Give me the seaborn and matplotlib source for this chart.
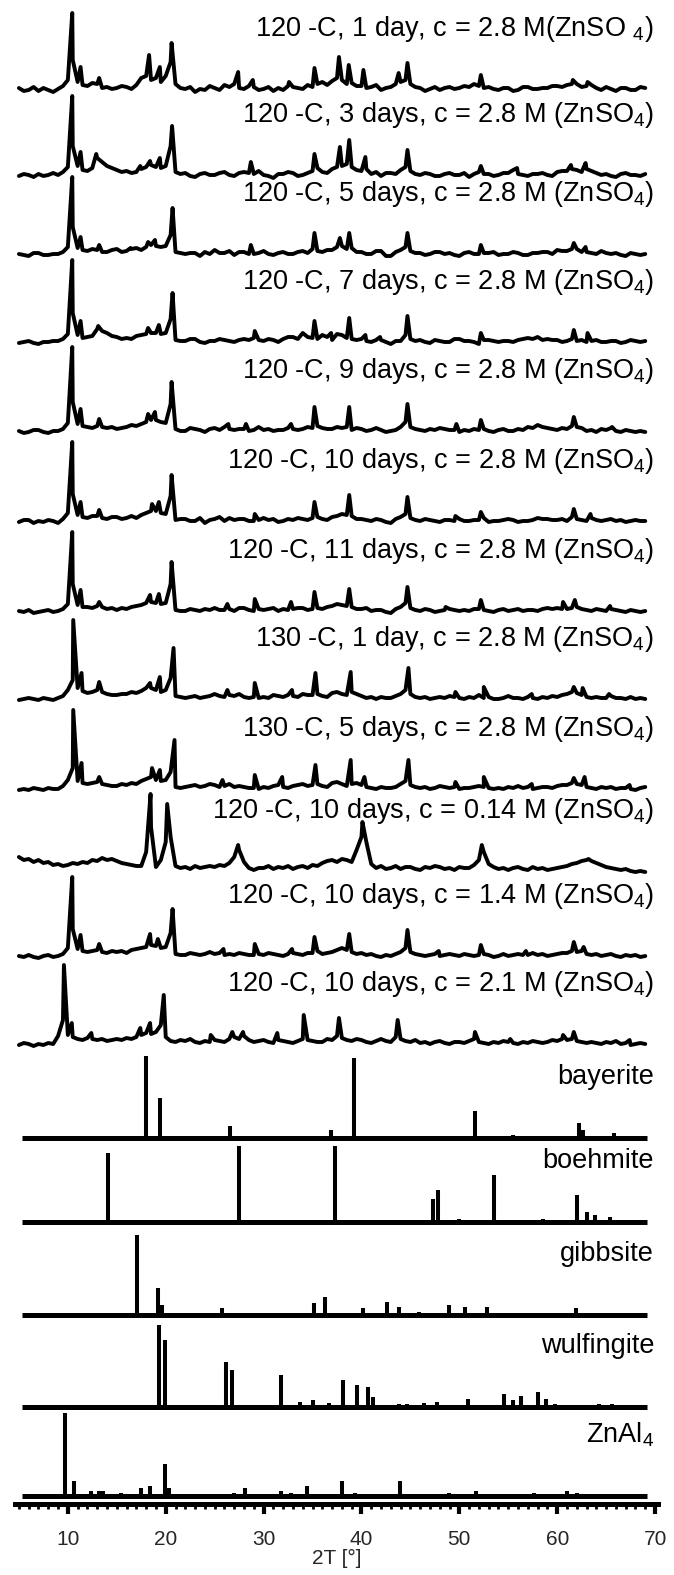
import numpy as np
import pandas as pd
import matplotlib
matplotlib.use("Agg")
import matplotlib.pyplot as plt
import seaborn as sns

# ---------------------------------------------------------------- data
# Measured powder patterns: background/noise sampled every half degree
# (2-theta = 5.0, 5.5, ... 69.0, one row of ten values per 5 degrees)
# plus the reflections read as (position, height).
grid_2theta = [5.0 + 0.5 * i for i in range(129)]

bg_120c_1d = [2, -1, 0, 3, -1, 2, 0, -2, 1, 4,
              10, 30, 8, 5, 4, 7, 6, 2, 3, 1,
              2, 4, 3, 1, 5, 12, 14, 10, 12, 8,
              14, 28, 6, 2, 1, 3, -2, 1, 0, 4,
              2, 0, 5, 3, 6, 2, 1, 4, 3, 0,
              1, 3, -1, 2, 0, 4, 3, 2, 1, 5,
              3, 6, 8, 5, 9, 12, 10, 6, 7, 4,
              4, 2, 3, 5, 0, 2, 3, 6, 8, 10,
              6, 3, 2, -1, 1, 3, 0, 2, 3, 1,
              2, 4, 3, 6, 4, 2, 3, 1, 0, 2,
              2, -1, 0, 3, 3, 1, 1, 2, 2, 4,
              4, 3, 5, 6, 6, 3, 4, 5, 2, 0,
              3, 1, -1, 2, 2, 0, 0, 3, 2]
pk_120c_1d = [(10.45, 77), (11.3, 23), (13.2, 12), (18.3, 35), (19.4, 23), (20.6, 47),
              (27.4, 18), (28.9, 10), (32.6, 8), (35.2, 22), (37.7, 33), (38.7, 25),
              (40.2, 20), (43.8, 17), (44.7, 27), (52.2, 15), (61.6, 10), (63.1, 8)]

bg_120c_3d = [0, 2, 1, -1, 2, 0, 1, 3, 1, 4,
              9, 30, 10, 6, 5, 8, 18, 14, 10, 8,
              6, 4, 5, 3, 4, 7, 9, 11, 9, 8,
              10, 30, 4, 2, 3, 0, -1, 2, 3, 1,
              1, 3, 4, 1, 0, 3, 4, 3, 2, 5,
              1, 0, -2, 2, 2, 4, 3, 0, 1, 3,
              5, 8, 4, 3, 7, 9, 10, 12, 9, 6,
              5, 7, 2, 4, 0, 3, 3, 2, 6, 9,
              5, 2, 1, 3, 2, 0, 0, 2, 3, 1,
              1, 3, -1, 2, 4, 2, 2, 0, 1, 3,
              3, 6, 2, 1, 0, 2, 2, 3, 1, 0,
              4, 5, 5, 7, 6, 4, 7, 5, 3, 1,
              2, 0, -1, 2, 3, 1, 1, 0, 2]
pk_120c_3d = [(10.45, 80), (11.3, 24), (12.9, 22), (17.4, 10), (18.4, 15), (19.4, 18),
              (20.65, 50), (28.7, 14), (35.2, 22), (37.8, 29), (38.75, 36), (40.4, 19),
              (44.7, 26), (52.2, 10), (55.9, 8), (61.4, 11), (62.9, 13)]

bg_120c_5d = [1, 0, -1, 2, 2, 0, 0, 1, 1, 3,
              8, 28, 7, 5, 4, 6, 5, 3, 3, 5,
              6, 3, 4, 6, 7, 5, 8, 10, 9, 8,
              9, 20, 3, 2, 1, 2, 2, -1, 3, 1,
              5, 2, 2, 4, 0, 3, 3, 1, 1, 2,
              4, 1, 0, 2, 3, 1, 1, 3, 4, 2,
              6, 4, 3, 5, 5, 8, 9, 6, 7, 3,
              3, 1, 1, 4, 4, -1, -1, 3, 5, 8,
              4, 2, 2, 0, 1, 3, 3, 1, 2, 0,
              -1, 2, 3, 1, 1, 2, 2, 3, 0, 1,
              1, 3, 2, 0, 0, 2, 2, 3, 3, 1,
              5, 4, 4, 6, 6, 3, 3, 2, 1, 4,
              2, 1, 2, 0, -1, 2, 1, 0, 1]
pk_120c_5d = [(10.45, 78), (11.3, 18), (13.2, 10), (16.4, 7), (18.2, 13), (18.9, 15),
              (20.7, 47), (28.7, 10), (35.2, 22), (37.8, 17), (38.75, 22), (44.7, 22),
              (52.2, 10), (61.7, 12), (62.9, 8)]

bg_120c_7d = [0, 1, 2, 0, -1, 1, 1, 2, 2, 4,
              9, 30, 8, 5, 6, 7, 14, 12, 10, 7,
              6, 4, 5, 4, 7, 8, 9, 10, 10, 9,
              10, 24, 3, 2, 2, 4, 4, 1, 0, 2,
              2, 4, 3, 2, 1, 3, 4, 3, 5, 3,
              2, 4, 3, 1, 4, 6, 6, 4, 10, 6,
              5, 4, 8, 6, 3, 9, 8, 5, 4, 3,
              4, 2, 1, 3, 3, 1, -1, 2, 2, 8,
              4, 2, 3, 1, 0, 3, 2, 1, 1, 4,
              4, 2, 2, 1, -1, 3, 3, 2, 1, 2,
              2, 1, 3, 4, 5, 4, 6, 3, 4, 3,
              3, 1, 2, 4, 2, 3, 1, 2, 3, 1,
              1, 2, 2, 0, 1, 3, 2, 1, 2]
pk_120c_7d = [(10.45, 83), (11.3, 22), (13.1, 17), (18.2, 15), (19.3, 18), (20.7, 50),
              (29.1, 12), (35.2, 22), (36.9, 10), (38.75, 25), (40.4, 8), (41.9, 6),
              (44.7, 27), (52.2, 10), (61.7, 13), (63.1, 10)]

bg_120c_9d = [1, -1, 0, 2, 2, 0, -1, 1, 1, 3,
              9, 30, 8, 6, 5, 4, 6, 5, 4, 5,
              3, 4, 5, 7, 6, 8, 10, 12, 12, 10,
              9, 28, 3, 1, 1, 4, 3, 2, 0, 3,
              4, 2, 5, 3, 2, 3, 3, 1, 2, 5,
              2, 3, 1, 2, 2, 4, 3, 2, 3, 5,
              4, 6, 4, 3, 3, 5, 4, 5, 2, 4,
              3, 1, 2, 4, 2, 0, 1, 2, 5, 10,
              5, 3, 2, 1, 3, 2, 4, 3, 2, 2,
              0, 2, 1, 3, 2, 3, 1, 0, 2, 3,
              1, 1, 3, 2, 5, 4, 7, 5, 4, 3,
              2, 4, 3, 6, 5, 4, 1, 2, 0, 3,
              2, 4, 1, 0, 2, 1, 0, 1, 0]
pk_120c_9d = [(10.45, 85), (11.3, 23), (13.2, 13), (18.2, 18), (18.9, 20), (20.6, 50),
              (26.4, 8), (28.2, 8), (32.8, 8), (35.2, 25), (38.75, 25), (44.7, 28),
              (49.7, 8), (52.2, 12), (61.7, 15), (65.6, 5)]

bg_120c_10d = [0, 2, 2, -1, 1, 0, 2, 1, -1, 3,
               9, 28, 7, 5, 4, 6, 6, 4, 3, 5,
               5, 3, 4, 6, 4, 7, 9, 11, 11, 9,
               8, 26, 2, 3, 3, 1, 1, 4, -1, 2,
               3, 5, 1, 4, 2, 3, 3, 1, 1, 2,
               4, 2, 3, 0, 1, 3, 2, 4, 3, 2,
               4, 5, 3, 2, 5, 6, 8, 7, 6, 3,
               3, 2, 1, 3, 2, 0, -1, 3, 5, 8,
               4, 2, 1, 3, 2, 1, 0, 2, 2, 1,
               3, 1, 1, 2, 2, 4, 0, 1, 1, 2,
               3, 2, 0, 1, 1, 2, 4, 3, 3, 2,
               2, 3, 1, 5, 3, 2, 1, 4, 2, 1,
               2, 3, 1, 2, 0, 1, 2, 1, 1]
pk_120c_10d = [(10.45, 80), (11.3, 20), (13.2, 12), (18.6, 18), (19.3, 20), (20.6, 47),
               (29.1, 8), (35.2, 20), (38.75, 27), (44.7, 25), (49.6, 6), (52.2, 10),
               (61.7, 13), (63.4, 8)]

bg_120c_11d = [1, 0, 2, -1, 0, 1, 2, 0, 1, 3,
               8, 28, 7, 5, 5, 4, 6, 5, 3, 4,
               2, 4, 3, 5, 6, 7, 9, 10, 9, 8,
               9, 28, 2, 1, 1, 3, 2, 1, 3, 2,
               4, 2, 2, 3, 1, 4, 4, 2, 1, 3,
               2, 3, 4, 1, 3, 2, 3, 4, 4, 2,
               3, 4, 3, 5, 6, 8, 7, 6, 5, 3,
               3, 4, 1, 2, 2, 0, -1, 3, 5, 9,
               4, 2, 1, 3, 2, 0, 1, 2, 3, 2,
               1, 2, 1, 3, 3, 2, 1, 0, 2, 3,
               1, 2, 3, 1, 2, 2, 1, 3, 4, 3,
               4, 3, 3, 4, 5, 3, 2, 1, 3, 2,
               1, 3, 2, 1, 0, 2, 1, 0, 1]
pk_120c_11d = [(10.45, 80), (11.3, 22), (13.2, 10), (18.4, 17), (19.3, 18), (20.6, 50),
               (26.3, 8), (29.1, 13), (32.8, 10), (35.2, 20), (38.75, 23), (44.7, 25),
               (48.6, 5), (52.2, 12), (60.6, 10), (61.8, 12), (65.4, 6)]

bg_130c_1d = [0, 1, 2, 1, 0, 2, 1, 0, 2, 4,
              10, 20, 12, 9, 7, 8, 10, 8, 6, 5,
              5, 6, 6, 8, 7, 9, 12, 12, 10, 8,
              10, 22, 4, 3, 2, 3, 4, 2, 3, 4,
              6, 4, 3, 5, 4, 6, 3, 2, 3, 2,
              3, 2, 5, 4, 3, 5, 4, 3, 6, 5,
              5, 6, 4, 3, 7, 8, 6, 5, 8, 6,
              4, 2, 3, 1, 3, 2, 2, 4, 6, 10,
              6, 3, 2, 3, 1, 2, 3, 2, 4, 3,
              2, 1, 3, 2, 5, 2, 3, 1, 1, 2,
              4, 2, 2, 1, 3, 2, 1, 3, 2, 4,
              3, 5, 6, 8, 7, 5, 3, 2, 3, 2,
              2, 4, 2, 2, 1, 3, 1, 2, 1]
pk_130c_1d = [(10.55, 80), (11.4, 27), (13.2, 18), (18.4, 17), (19.4, 23), (20.8, 52),
              (26.3, 10), (29.1, 17), (32.9, 10), (35.3, 27), (38.9, 28), (44.8, 32),
              (49.6, 8), (52.5, 13), (57.4, 6), (61.7, 13), (62.6, 12), (65.3, 6)]

bg_130c_5d = [0, 1, 0, 2, 1, 0, 2, 1, 1, 4,
              10, 22, 9, 7, 6, 7, 8, 6, 5, 4,
              4, 6, 5, 7, 6, 9, 11, 13, 10, 9,
              10, 18, 3, 2, 3, 4, 5, 3, 4, 6,
              5, 3, 4, 6, 3, 4, 3, 2, 2, 1,
              3, 2, 4, 5, 3, 2, 4, 5, 6, 4,
              5, 6, 4, 3, 7, 8, 6, 4, 6, 7,
              5, 3, 2, 1, 3, 2, 2, 3, 6, 9,
              5, 3, 2, 3, 1, 2, 4, 3, 2, 3,
              1, 2, 2, 3, 4, 3, 2, 1, 2, 1,
              3, 2, 4, 2, 3, 1, 2, 3, 3, 2,
              4, 5, 5, 7, 6, 5, 3, 2, 1, 3,
              2, 3, 1, 2, 2, 1, 0, 2, 3]
pk_130c_5d = [(10.55, 80), (11.4, 27), (13.2, 13), (18.6, 22), (19.4, 20), (20.9, 50),
              (25.8, 10), (29.1, 15), (31.9, 13), (35.3, 25), (38.9, 30), (40.3, 13),
              (44.8, 30), (49.6, 8), (52.5, 13), (57.4, 6), (61.7, 12), (62.8, 13),
              (67.4, 5)]

bg_014m = [15, 12, 13, 10, 12, 9, 10, 7, 8, 6,
           7, 9, 8, 10, 9, 12, 11, 14, 12, 13,
           11, 9, 8, 7, 6, 6, 20, 45, 5, 12,
           30, 35, 6, 4, 5, 3, 6, 4, 5, 6,
           5, 7, 6, 9, 15, 22, 10, 4, 2, 4,
           4, 6, 3, 5, 4, 6, 3, 5, 6, 4,
           7, 6, 9, 11, 12, 10, 13, 12, 10, 22,
           35, 30, 8, 4, 6, 3, 4, 6, 3, 5,
           5, 3, 2, 5, 4, 6, 5, 3, 4, 2,
           5, 4, 4, 7, 12, 20, 8, 5, 3, 4,
           2, 4, 5, 3, 2, 5, 3, 4, 2, 3,
           4, 5, 6, 8, 9, 11, 12, 11, 9, 7,
           5, 4, 3, 2, 3, 1, 0, 1, 0]
pk_014m = [(18.45, 78), (20.15, 68), (27.4, 27), (40.1, 50), (52.3, 27), (63.2, 13)]

bg_14m = [1, 0, 2, 0, -1, 1, 2, 0, 1, 3,
          9, 28, 8, 6, 5, 6, 7, 5, 4, 6,
          5, 6, 4, 7, 8, 9, 10, 12, 11, 9,
          10, 24, 3, 2, 2, 4, 3, 2, 3, 5,
          3, 4, 2, 3, 2, 4, 3, 2, 2, 3,
          2, 4, 3, 2, 1, 3, 4, 3, 2, 4,
          4, 6, 3, 4, 5, 7, 9, 7, 5, 3,
          4, 2, 3, 1, 0, 2, 1, 3, 5, 9,
          5, 3, 2, 1, 2, 3, 1, 2, 3, 2,
          1, 3, 2, 1, 2, 3, 2, 0, 1, 3,
          1, 2, 3, 2, 2, 4, 2, 3, 1, 2,
          3, 4, 4, 6, 5, 6, 3, 2, 3, 1,
          2, 3, 1, 0, 2, 1, 2, 0, 1]
pk_14m = [(10.45, 80), (11.3, 22), (13.2, 13), (18.4, 23), (19.2, 18), (20.7, 48),
          (25.9, 8), (29.1, 13), (32.9, 8), (35.2, 20), (38.75, 23), (44.7, 27),
          (47.9, 6), (52.2, 12), (56.8, 6), (61.7, 15), (62.7, 10)]

bg_21m = [0, 2, 1, -1, 1, 0, 2, 1, 9, 25,
          10, 8, 6, 5, 7, 6, 5, 6, 4, 5,
          6, 5, 7, 6, 8, 10, 12, 11, 13, 20,
          8, 4, 3, 5, 4, 6, 3, 2, 4, 3,
          5, 4, 3, 6, 8, 6, 9, 5, 3, 4,
          5, 3, 2, 5, 4, 3, 2, 4, 6, 5,
          4, 3, 3, 6, 5, 9, 7, 5, 4, 6,
          5, 3, 2, 4, 6, 4, 3, 8, 6, 4,
          3, 5, 2, 3, 1, 3, 4, 2, 1, 3,
          3, 2, 4, 6, 3, 2, 1, 3, 2, 4,
          3, 2, 1, 3, 2, 4, 3, 2, 3, 5,
          4, 6, 5, 6, 4, 3, 2, 3, 2, 1,
          3, 2, 4, 1, 2, 0, 1, 2, 1]
pk_21m = [(9.6, 80), (10.4, 22), (12.4, 12), (17.4, 17), (18.4, 22), (19.8, 50),
          (24.6, 10), (26.8, 13), (27.9, 13), (31.4, 12), (34.1, 30), (37.7, 27),
          (43.7, 25), (51.6, 13), (55.2, 6), (60.6, 10), (61.7, 13), (67.4, 5)]

# Reference stick patterns: position (2-theta) and relative height.
bayerite_pos = [18.0, 19.4, 23.5, 26.6, 36.9, 39.2, 45.8, 51.6, 55.5, 58.5, 62.2, 62.6, 65.8]
bayerite_int = [82, 40, 2, 12, 8, 80, 2, 27, 3, 2, 15, 8, 5]

boehmite_pos = [14.1, 27.5, 37.3, 47.3, 47.8, 50.0, 53.5, 58.5, 62.0, 63.0, 63.9, 65.4]
boehmite_int = [69, 76, 76, 23, 32, 3, 47, 3, 27, 10, 7, 5]

gibbsite_pos = [17.1, 19.2, 19.6, 25.7, 26.5, 28.0, 30.5, 35.2, 36.3, 37.8, 40.2, 42.6,
                43.8, 45.9, 48.9, 50.6, 52.8, 61.9, 63.7, 64.7]
gibbsite_int = [80, 27, 10, 7, 2, 2, 2, 12, 18, 2, 7, 13, 8, 3, 10, 8, 8, 7, 2, 2]

wulfingite_pos = [19.3, 19.9, 24.3, 26.2, 26.8, 31.8, 33.7, 35.0, 36.7, 38.1, 39.5, 40.7,
                  41.2, 43.8, 44.7, 46.4, 47.7, 50.1, 50.9, 54.6, 55.5, 56.3, 58.0, 58.9,
                  59.8, 64.3, 65.6, 66.9]
wulfingite_int = [82, 67, 2, 45, 37, 32, 5, 7, 4, 27, 22, 20, 10, 3, 3, 4, 5, 2, 8, 13, 7,
                  11, 15, 8, 3, 3, 3, 2]

znal_pos = [9.66, 10.6, 12.4, 13.2, 13.6, 15.4, 17.5, 18.4, 19.9, 20.3, 27.0, 28.1, 31.8,
            32.8, 34.4, 38.0, 39.3, 43.9, 48.9, 51.7, 57.6, 61.0, 62.0, 67.8]
znal_int = [83, 15, 5, 5, 5, 3, 8, 10, 32, 8, 3, 8, 5, 3, 10, 15, 3, 15, 3, 5, 3, 5, 3, 2]

sample_labels = [
    "120 -C, 1 day, c = 2.8 M(ZnSO $_4$)",
    "120 -C, 3 days, c = 2.8 M (ZnSO$_4$)",
    "120 -C, 5 days, c = 2.8 M (ZnSO$_4$)",
    "120 -C, 7 days, c = 2.8 M (ZnSO$_4$)",
    "120 -C, 9 days, c = 2.8 M (ZnSO$_4$)",
    "120 -C, 10 days, c = 2.8 M (ZnSO$_4$)",
    "120 -C, 11 days, c = 2.8 M (ZnSO$_4$)",
    "130 -C, 1 day, c = 2.8 M (ZnSO$_4$)",
    "130 -C, 5 days, c = 2.8 M (ZnSO$_4$)",
    "120 -C, 10 days, c = 0.14 M (ZnSO$_4$)",
    "120 -C, 10 days, c = 1.4 M (ZnSO$_4$)",
    "120 -C, 10 days, c = 2.1 M (ZnSO$_4$)",
]
reference_labels = ["bayerite", "boehmite", "gibbsite", "wulfingite", "ZnAl$_4$"]

x_ticks = [10, 20, 30, 40, 50, 60, 70]

# ---------------------------------------------------------------- layout
W, H, DPI = 674, 1575, 100
SPINE_ROW = 1504                       # pixel row of the 2-theta axis
# baseline row of every stacked pattern, top to bottom
sample_rows = [90, 176, 255, 343, 432, 522, 612, 700, 790, 872, 957, 1045]
reference_rows = [1138, 1222, 1315, 1407, 1496]
LABEL_RISE = 61                        # label centre above its baseline
LABEL_X = 69.9

sns.set_theme(style="white")
plt.rcParams["font.family"] = ["Liberation Sans", "DejaVu Sans"]
plt.rcParams["mathtext.fontset"] = "custom"
plt.rcParams["mathtext.rm"] = "Liberation Sans"
plt.rcParams["mathtext.it"] = "Liberation Sans:italic"
plt.rcParams["mathtext.bf"] = "Liberation Sans:bold"

fig = plt.figure(figsize=(W / DPI, H / DPI), dpi=DPI)
ax = fig.add_axes([15 / W, (H - SPINE_ROW) / H, (658 - 15) / W, SPINE_ROW / H])
ax.set_xlim(4.6, 70.3)
ax.set_ylim(0, SPINE_ROW)
ax.patch.set_alpha(0)


def to_y(row):
    return SPINE_ROW - row


backgrounds = [bg_120c_1d, bg_120c_3d, bg_120c_5d, bg_120c_7d, bg_120c_9d, bg_120c_10d,
               bg_120c_11d, bg_130c_1d, bg_130c_5d, bg_014m, bg_14m, bg_21m]
peak_lists = [pk_120c_1d, pk_120c_3d, pk_120c_5d, pk_120c_7d, pk_120c_9d, pk_120c_10d,
              pk_120c_11d, pk_130c_1d, pk_130c_5d, pk_014m, pk_14m, pk_21m]

for bg, pks, row, label in zip(backgrounds, peak_lists, sample_rows, sample_labels):
    tt = list(grid_2theta) + [p for p, _ in pks]
    counts = list(bg) + [h for _, h in pks]
    df = pd.DataFrame({"two_theta": tt, "counts": counts})
    df["counts"] = df["counts"] + to_y(row)
    sns.lineplot(data=df, x="two_theta", y="counts", sort=True, estimator=None,
                 color="black", linewidth=2.8, ax=ax, legend=False)
    ax.text(LABEL_X, to_y(row) + LABEL_RISE, label, ha="right", va="center",
            fontsize=19.5, color="black")

ref_sets = [(bayerite_pos, bayerite_int), (boehmite_pos, boehmite_int),
            (gibbsite_pos, gibbsite_int), (wulfingite_pos, wulfingite_int),
            (znal_pos, znal_int)]
for (pos, inten), row, label in zip(ref_sets, reference_rows, reference_labels):
    base = to_y(row)
    ax.hlines(base, 5.3, 69.2, color="black", linewidth=3.6)
    ax.vlines(pos, base, [base + v for v in inten], color="black", linewidth=2.9)
    ax.text(LABEL_X, base + LABEL_RISE, label, ha="right", va="center",
            fontsize=19.5, color="black")

# axis styling: only the bottom ruler with dense minor ticks
for side in ("left", "top", "right"):
    ax.spines[side].set_visible(False)
ax.spines["bottom"].set_linewidth(3.6)
ax.spines["bottom"].set_color("black")
ax.set_yticks([])
ax.set_xticks(x_ticks)
ax.set_xticklabels([str(t) for t in x_ticks])
ax.xaxis.set_minor_locator(matplotlib.ticker.MultipleLocator(1))
ax.tick_params(axis="x", which="major", direction="out", length=7, width=3,
               color="black", labelsize=15, pad=12, bottom=True)
ax.tick_params(axis="x", which="minor", direction="out", length=3.5, width=2,
               color="black", bottom=True)
ax.set_xlabel("2T [°]", fontsize=15, labelpad=0)
ax.set_ylabel("")

fig.savefig("out.png", dpi=DPI, facecolor="white")
